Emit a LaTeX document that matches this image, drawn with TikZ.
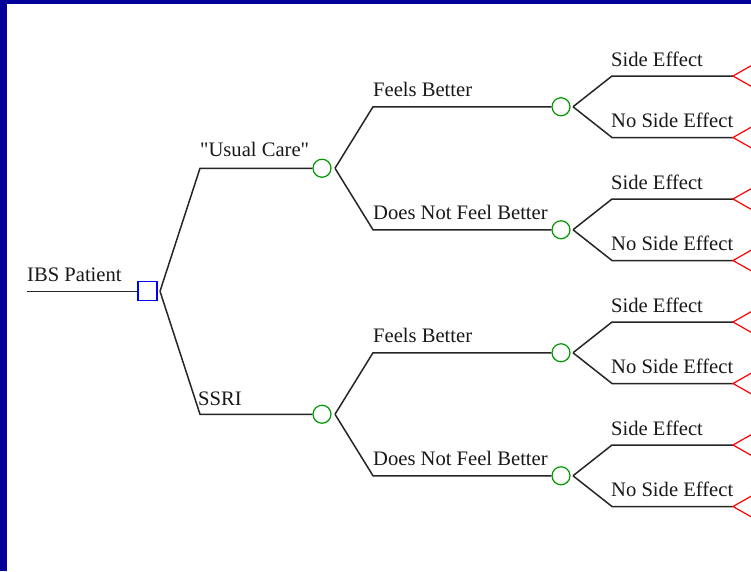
\documentclass[tikz,border=0pt]{standalone}
\usepackage{fontspec}
\setmainfont{Liberation Serif}[Ligatures=TeXOff]
\usetikzlibrary{calc}
\begin{document}
\begin{tikzpicture}[x=1pt,y=-1pt,
  branch/.style={draw=black!85,line width=1.5pt},
  decision/.style={draw=blue,line width=1.4pt,rectangle,minimum size=19pt,inner sep=0pt},
  chance/.style={draw=green!60!black,line width=1.2pt,circle,minimum size=18pt,inner sep=0pt},
  terminal/.style={draw=red,line width=1.2pt},
  lbl/.style={anchor=base west,inner sep=0pt,font=\fontsize{20.6}{22}\selectfont,text=black!90}]
\definecolor{framec}{RGB}{0,0,153}
\useasboundingbox (0,0) rectangle (751,571);
\clip (0,0) rectangle (751,571);
% frame
\fill[framec] (0,0) rectangle (751,571);
\fill[white] (7,4) rectangle (760,580);

% root and decision node
\coordinate (s0) at (27,291.25);
\node[decision] (d) at (147.5,291.25) {};
\coordinate (dj) at (160,291.25);
\draw[branch] (s0) -- (d.west);
\node[lbl] (lroot) at (27,281) {IBS Patient};

% first-level chance nodes
\node[chance] (c1) at (322,168.25) {};
\node[chance] (c2) at (322,414.25) {};
\coordinate (k1) at (200,168.25);
\coordinate (k2) at (200,414.25);
\draw[branch] (dj) -- (k1) -- (c1.west);
\draw[branch] (dj) -- (k2) -- (c2.west);
\node[lbl] (l1) at (200,156.5) {"Usual Care"};
\node[lbl] (l2) at (198,405.5) {SSRI};

% second-level chance nodes
\foreach \p/\a/\b/\ya/\yb in {c1/c11/c12/106.75/229.75, c2/c21/c22/352.75/475.75}{
  \coordinate (\p j) at ($(\p)+(13,0)$);
  \node[chance] (\a) at (561,\ya) {};
  \node[chance] (\b) at (561,\yb) {};
  \coordinate (\a k) at (373,\ya);
  \coordinate (\b k) at (373,\yb);
  \draw[branch] (\p j) -- (\a k) -- (\a.west);
  \draw[branch] (\p j) -- (\b k) -- (\b.west);
  \node[lbl] (\a l) at (373,\ya-10) {Feels Better};
  \node[lbl] (\b l) at (373,\yb-10) {Does Not Feel Better};
}

% outcomes and terminal nodes
\foreach \p/\y in {c11/106.75, c12/229.75, c21/352.75, c22/475.75}{
  \coordinate (\p j) at ($(\p)+(12,0)$);
  \coordinate (\p ka) at (612,\y-30.75);
  \coordinate (\p kb) at (612,\y+30.75);
  \coordinate (\p ta) at (733,\y-30.75);
  \coordinate (\p tb) at (733,\y+30.75);
  \draw[branch] (\p j) -- (\p ka) -- (\p ta);
  \draw[branch] (\p j) -- (\p kb) -- (\p tb);
  \draw[terminal] ($(\p ta)+(22,-12.5)$) -- (\p ta) -- ($(\p ta)+(22,12.5)$);
  \draw[terminal] ($(\p tb)+(22,-12.5)$) -- (\p tb) -- ($(\p tb)+(22,12.5)$);
  \node[lbl] (\p la) at (611,\y-40.75) {Side Effect};
  \node[lbl] (\p lb) at (611,\y+20.75) {No Side Effect};
}
\end{tikzpicture}
\end{document}
